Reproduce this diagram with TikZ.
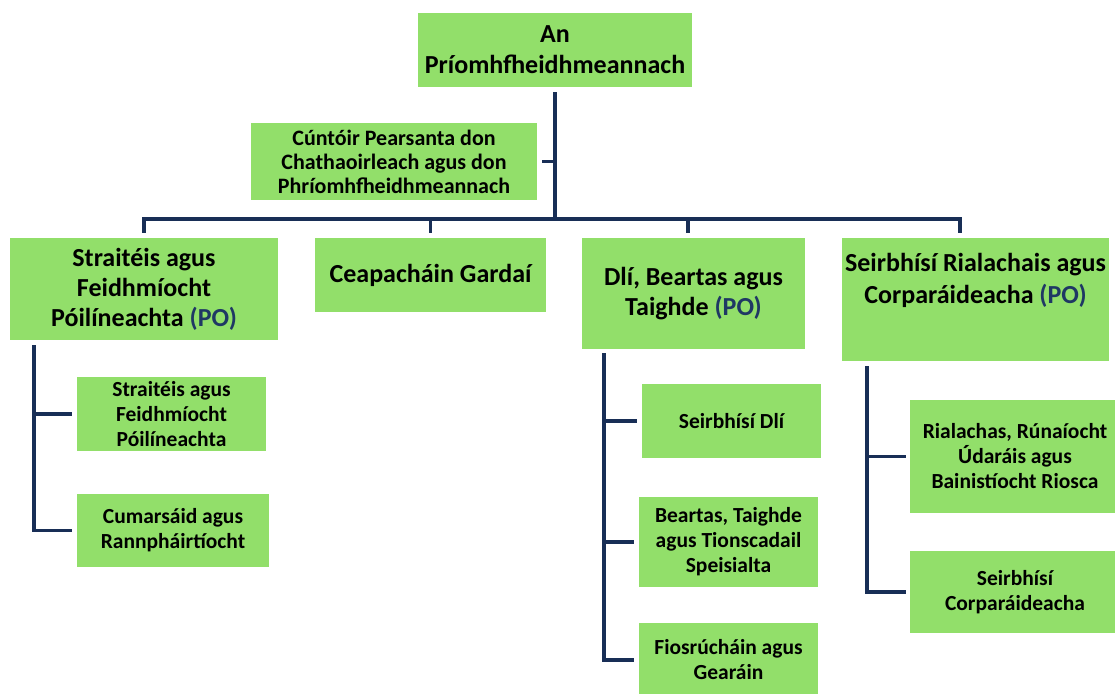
\documentclass[tikz,border=0pt]{standalone}
\usepackage{fontspec}
\setmainfont{Carlito}
\definecolor{boxgreen}{RGB}{146,223,106}
\definecolor{linenavy}{RGB}{24,46,86}
\definecolor{potext}{RGB}{31,56,100}
\newcommand{\po}{\textcolor{potext}{(PO)}}

\begin{document}
\begin{tikzpicture}[x=1pt, y=-1pt,
block/.style = {rectangle, fill=boxgreen, align=center, inner sep=0pt, font=\bfseries\fontsize{26}{30}\selectfont},
subblock/.style = {block, font=\bfseries\fontsize{21.5}{25}\selectfont},
wire/.style = {draw=linenavy, line width=3.8pt}]
\useasboundingbox (0,0) rectangle (1115,693);

\node [block, minimum width=274, minimum height=74, font=\bfseries\fontsize{26}{31}\selectfont] at (555,50) (ceo) {An\\Príomhfheidhmeannach};
\node [block, minimum width=286, minimum height=77, font=\bfseries\fontsize{22}{24}\selectfont] at (394,161.5) (pa) {Cúntóir Pearsanta don\\Chathaoirleach agus don\\Phríomhfheidhmeannach};
\node [block, minimum width=268, minimum height=102] at (144,289) (strat) {Straitéis agus\\Feidhmíocht\\Póilíneachta \po};
\node [block, minimum width=231, minimum height=74] at (430.5,275) (ceap) {Ceapacháin Gardaí};
\node [block, minimum width=223, minimum height=111] at (693.5,293.5) (dli) {Dlí, Beartas agus\\Taighde \po};
\node [block, minimum width=267, minimum height=123] at (975.5,299.5) (seirb) {\parbox[c][123pt][t]{267pt}{\fontsize{26}{32}\selectfont\vspace*{15pt}\centering Seirbhísí Rialachais agus\\Corparáideacha \po}};

\node [subblock, minimum width=189, minimum height=74] at (171.5,414) (stratsub) {Straitéis agus\\Feidhmíocht\\Póilíneachta};
\node [subblock, minimum width=192, minimum height=73] at (173,530.5) (cumars) {Cumarsáid agus\\Rannpháirtíocht};
\node [subblock, minimum width=179, minimum height=74] at (731.5,421) (dlisub) {Seirbhísí Dlí};
\node [subblock, minimum width=179, minimum height=90] at (728.5,542) (beartas) {Beartas, Taighde\\agus Tionscadail\\Speisialta};
\node [subblock, minimum width=179, minimum height=74] at (728.5,660) (fiosr) {Fiosrúcháin agus\\Gearáin};
\node [subblock, minimum width=210, minimum height=113] at (1015,456.5) (rial) {Rialachas, Rúnaíocht\\Údaráis agus\\Bainistíocht Riosca};
\node [subblock, minimum width=210, minimum height=82] at (1015,592) (corp) {Seirbhísí\\Corparáideacha};

% top level bus
\coordinate (bl) at (144,219);
\coordinate (br) at (960,219);
\coordinate (dc) at (688,219);
\draw [wire, shorten <=5pt] (ceo.south) -- (ceo.south |- bl);
\draw [wire, shorten <=5pt] (pa.east) -- (pa.east -| ceo.south);
\draw [wire, shorten <=5pt, shorten >=5pt] (strat.north) -- (bl) -- (br) -- (br |- seirb.north);
\draw [wire, shorten >=5pt] (ceap.north |- bl) -- (ceap.north);
\draw [wire, shorten >=5pt] (dc) -- (dc |- dli.north);

% branches
\coordinate (ta) at (34,345);
\draw [wire, shorten >=5pt] (ta) |- (cumars.west);
\draw [wire, shorten >=5pt] (ta |- stratsub.west) -- (stratsub.west);
\coordinate (tc) at (604,353);
\draw [wire, shorten >=5pt] (tc) |- (fiosr.west);
\draw [wire, shorten >=5pt] (tc |- dlisub.west) -- (dlisub.west);
\draw [wire, shorten >=5pt] (tc |- beartas.west) -- (beartas.west);
\coordinate (td) at (867,366);
\draw [wire, shorten >=4pt] (td) |- (corp.west);
\draw [wire, shorten >=4pt] (td |- rial.west) -- (rial.west);
\end{tikzpicture}
\end{document}
